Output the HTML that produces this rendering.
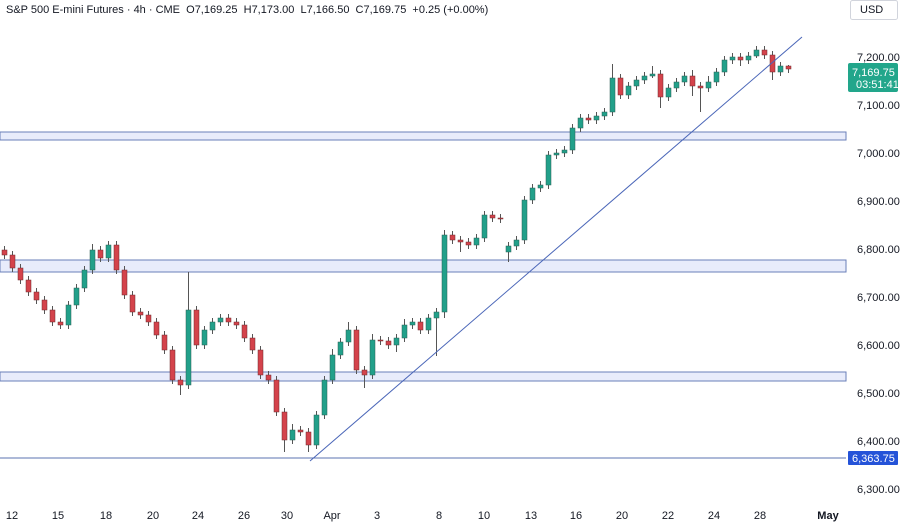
<!DOCTYPE html>
<html><head><meta charset="utf-8"><style>
html,body{margin:0;padding:0;background:#fff;}
body{width:900px;height:525px;overflow:hidden;position:relative;font-family:"Liberation Sans",sans-serif;}
svg{position:absolute;left:0;top:0;}
.g{fill:#22a08a;stroke:#2b5f55;stroke-width:0.5}
.r{fill:#d4434b;stroke:#6b2a2e;stroke-width:0.5}
</style></head><body>
<svg width="900" height="525" xmlns="http://www.w3.org/2000/svg" font-family="Liberation Sans, sans-serif">
<rect x="0" y="132" width="846" height="8" fill="#e8ecfb" stroke="#6a7fb8" stroke-width="1"/>
<rect x="0" y="260" width="846" height="12" fill="#e8ecfb" stroke="#6a7fb8" stroke-width="1"/>
<rect x="0" y="372" width="846" height="9" fill="#e8ecfb" stroke="#6a7fb8" stroke-width="1"/>
<line x1="0" y1="458" x2="846" y2="458" stroke="#5b73b0" stroke-width="1"/>
<path stroke="#555" stroke-width="1" fill="none" d="M4.5 246V259M12.5 251V272M20.5 264V284M28.5 276V296M36.5 288V304M44.5 296V314M52.5 306V326M60.5 318V329M68.5 301V329M76.5 284V309M84.5 266V292M92.5 244V274M100.5 246V262M108.5 241V262M116.5 241V274M124.5 266V299M132.5 291V316M140.5 308V319M148.5 311V326M156.5 318V339M164.5 331V354M172.5 346V384M180.5 376V395M188.5 272V389M196.5 306V349M204.5 326V349M212.5 318V334M220.5 314V326M228.5 314V326M236.5 318V329M244.5 321V342M252.5 334V354M260.5 346V379M268.5 371V384M276.5 376V416M284.5 408V452M292.5 424V444M300.5 426V436M308.5 428V452M316.5 411V449M324.5 376V419M332.5 349V384M340.5 338V359M348.5 322V346M356.5 326V374M364.5 366V388M372.5 334V379M380.5 336V345M388.5 337V349M396.5 334V352M404.5 319V342M412.5 318V329M420.5 318V334M428.5 314V334M436.5 308V356M444.5 230V318M452.5 231V244M460.5 236V252M468.5 238V249M476.5 234V249M484.5 211V242M492.5 211V222M500.5 214V223M508.5 242V262M516.5 236V250M524.5 196V244M532.5 184V204M540.5 181V192M548.5 151V189M556.5 149V159M564.5 146V157M572.5 124V154M580.5 114V132M588.5 114V124M596.5 112V124M604.5 108V120M612.5 64V116M620.5 74V99M628.5 82V99M636.5 76V90M644.5 72V84M652.5 66V78M660.5 70V108M668.5 84V101M676.5 78V92M684.5 72V86M692.5 70V96M700.5 82V112M708.5 76V92M716.5 68V86M724.5 56V76M732.5 53V64M740.5 53V66M748.5 52V64M756.5 46V58M764.5 46V59M772.5 51V80M780.5 62V76M788.5 65V73"/>
<rect class="r" x="2" y="250" width="5" height="5"/>
<rect class="r" x="10" y="255" width="5" height="13"/>
<rect class="r" x="18" y="268" width="5" height="12"/>
<rect class="r" x="26" y="280" width="5" height="12"/>
<rect class="r" x="34" y="292" width="5" height="8"/>
<rect class="r" x="42" y="300" width="5" height="10"/>
<rect class="r" x="50" y="310" width="5" height="12"/>
<rect class="r" x="58" y="322" width="5" height="3"/>
<rect class="g" x="66" y="305" width="5" height="20"/>
<rect class="g" x="74" y="288" width="5" height="17"/>
<rect class="g" x="82" y="270" width="5" height="18"/>
<rect class="g" x="90" y="250" width="5" height="20"/>
<rect class="r" x="98" y="250" width="5" height="8"/>
<rect class="g" x="106" y="245" width="5" height="13"/>
<rect class="r" x="114" y="245" width="5" height="25"/>
<rect class="r" x="122" y="270" width="5" height="25"/>
<rect class="r" x="130" y="295" width="5" height="17"/>
<rect class="r" x="138" y="312" width="5" height="3"/>
<rect class="r" x="146" y="315" width="5" height="7"/>
<rect class="r" x="154" y="322" width="5" height="13"/>
<rect class="r" x="162" y="335" width="5" height="15"/>
<rect class="r" x="170" y="350" width="5" height="30"/>
<rect class="r" x="178" y="380" width="5" height="5"/>
<rect class="g" x="186" y="310" width="5" height="75"/>
<rect class="r" x="194" y="310" width="5" height="35"/>
<rect class="g" x="202" y="330" width="5" height="15"/>
<rect class="g" x="210" y="322" width="5" height="8"/>
<rect class="g" x="218" y="318" width="5" height="4"/>
<rect class="r" x="226" y="318" width="5" height="4"/>
<rect class="r" x="234" y="322" width="5" height="3"/>
<rect class="r" x="242" y="325" width="5" height="13"/>
<rect class="r" x="250" y="338" width="5" height="12"/>
<rect class="r" x="258" y="350" width="5" height="25"/>
<rect class="r" x="266" y="375" width="5" height="5"/>
<rect class="r" x="274" y="380" width="5" height="32"/>
<rect class="r" x="282" y="412" width="5" height="28"/>
<rect class="g" x="290" y="430" width="5" height="10"/>
<rect class="r" x="298" y="430" width="5" height="2"/>
<rect class="r" x="306" y="432" width="5" height="13"/>
<rect class="g" x="314" y="415" width="5" height="30"/>
<rect class="g" x="322" y="380" width="5" height="35"/>
<rect class="g" x="330" y="355" width="5" height="25"/>
<rect class="g" x="338" y="342" width="5" height="13"/>
<rect class="g" x="346" y="330" width="5" height="12"/>
<rect class="r" x="354" y="330" width="5" height="40"/>
<rect class="r" x="362" y="370" width="5" height="5"/>
<rect class="g" x="370" y="340" width="5" height="35"/>
<rect class="r" x="378" y="340" width="5" height="1"/>
<rect class="r" x="386" y="341" width="5" height="4"/>
<rect class="g" x="394" y="338" width="5" height="7"/>
<rect class="g" x="402" y="325" width="5" height="13"/>
<rect class="g" x="410" y="322" width="5" height="3"/>
<rect class="r" x="418" y="322" width="5" height="8"/>
<rect class="g" x="426" y="318" width="5" height="12"/>
<rect class="g" x="434" y="312" width="5" height="6"/>
<rect class="g" x="442" y="235" width="5" height="77"/>
<rect class="r" x="450" y="235" width="5" height="5"/>
<rect class="r" x="458" y="240" width="5" height="2"/>
<rect class="r" x="466" y="242" width="5" height="3"/>
<rect class="g" x="474" y="238" width="5" height="7"/>
<rect class="g" x="482" y="215" width="5" height="23"/>
<rect class="r" x="490" y="215" width="5" height="3"/>
<rect class="r" x="498" y="218" width="5" height="1"/>
<rect class="g" x="506" y="246" width="5" height="6"/>
<rect class="g" x="514" y="240" width="5" height="6"/>
<rect class="g" x="522" y="200" width="5" height="40"/>
<rect class="g" x="530" y="188" width="5" height="12"/>
<rect class="g" x="538" y="185" width="5" height="3"/>
<rect class="g" x="546" y="155" width="5" height="30"/>
<rect class="g" x="554" y="153" width="5" height="2"/>
<rect class="g" x="562" y="150" width="5" height="3"/>
<rect class="g" x="570" y="128" width="5" height="22"/>
<rect class="g" x="578" y="118" width="5" height="10"/>
<rect class="r" x="586" y="118" width="5" height="2"/>
<rect class="g" x="594" y="116" width="5" height="4"/>
<rect class="g" x="602" y="112" width="5" height="4"/>
<rect class="g" x="610" y="78" width="5" height="34"/>
<rect class="r" x="618" y="78" width="5" height="17"/>
<rect class="g" x="626" y="86" width="5" height="9"/>
<rect class="g" x="634" y="80" width="5" height="6"/>
<rect class="g" x="642" y="76" width="5" height="4"/>
<rect class="g" x="650" y="74" width="5" height="2"/>
<rect class="r" x="658" y="74" width="5" height="23"/>
<rect class="g" x="666" y="88" width="5" height="9"/>
<rect class="g" x="674" y="82" width="5" height="6"/>
<rect class="g" x="682" y="76" width="5" height="6"/>
<rect class="r" x="690" y="76" width="5" height="10"/>
<rect class="r" x="698" y="86" width="5" height="2"/>
<rect class="g" x="706" y="82" width="5" height="6"/>
<rect class="g" x="714" y="72" width="5" height="10"/>
<rect class="g" x="722" y="60" width="5" height="12"/>
<rect class="g" x="730" y="57" width="5" height="3"/>
<rect class="r" x="738" y="57" width="5" height="3"/>
<rect class="g" x="746" y="56" width="5" height="4"/>
<rect class="g" x="754" y="50" width="5" height="6"/>
<rect class="r" x="762" y="50" width="5" height="5"/>
<rect class="r" x="770" y="55" width="5" height="17"/>
<rect class="g" x="778" y="66" width="5" height="6"/>
<rect class="r" x="786" y="66" width="5" height="3"/>
<line x1="310" y1="461" x2="802" y2="37" stroke="#4a66b8" stroke-width="1"/>
<text x="6" y="13" font-size="11" fill="#131722" xml:space="preserve">S&amp;P 500 E-mini Futures · 4h · CME  O7,169.25  H7,173.00  L7,166.50  C7,169.75  +0.25 (+0.00%)</text>
<rect x="850.5" y="0.5" width="47" height="19" fill="#fff" stroke="#d1d4dc" rx="2"/>
<text x="860" y="13" font-size="11" fill="#131722">USD</text>
<g font-size="11" fill="#131722">
<text x="857" y="61">7,200.00</text>
<text x="857" y="109">7,100.00</text>
<text x="857" y="157">7,000.00</text>
<text x="857" y="205">6,900.00</text>
<text x="857" y="253">6,800.00</text>
<text x="857" y="301">6,700.00</text>
<text x="857" y="349">6,600.00</text>
<text x="857" y="397">6,500.00</text>
<text x="857" y="445">6,400.00</text>
<text x="857" y="493">6,300.00</text>
</g>
<rect x="848" y="63" width="50" height="29" fill="#22a68b" rx="2"/>
<text x="852" y="76" font-size="11" fill="#fff">7,169.75</text>
<text x="856" y="88" font-size="11" fill="#fff">03:51:41</text>
<rect x="848" y="451" width="50" height="14" fill="#2553d8" rx="1"/>
<text x="852" y="462" font-size="11" fill="#fff">6,363.75</text>
<g font-size="11" fill="#131722" text-anchor="middle">
<text x="12" y="519">12</text><text x="58" y="519">15</text><text x="106" y="519">18</text>
<text x="153" y="519">20</text><text x="198" y="519">24</text><text x="244" y="519">26</text>
<text x="287" y="519">30</text><text x="332" y="519">Apr</text><text x="377" y="519">3</text>
<text x="439" y="519">8</text><text x="484" y="519">10</text><text x="531" y="519">13</text>
<text x="576" y="519">16</text><text x="622" y="519">20</text><text x="668" y="519">22</text>
<text x="714" y="519">24</text><text x="760" y="519">28</text><text x="828" y="519" font-weight="bold">May</text>
</g>
</svg>
</body></html>
